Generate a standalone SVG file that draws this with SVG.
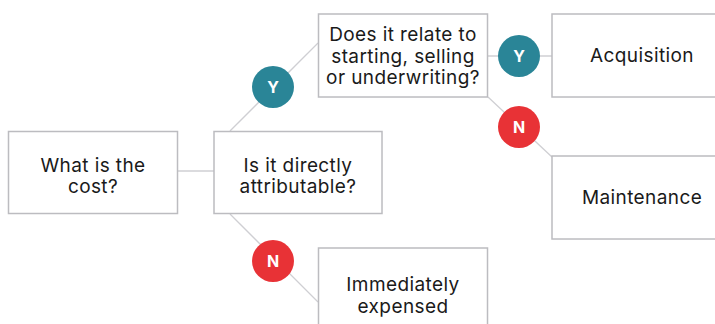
<svg xmlns="http://www.w3.org/2000/svg" width="715" height="324" viewBox="0 0 715 324">
<style>
.box{fill:#ffffff;stroke:#bcbcc0;stroke-width:1.5}
.lbl{font-family:Inter,"Open Sans","Liberation Sans",sans-serif;font-size:19px;letter-spacing:0.4px;fill:#1a1a1a;text-anchor:middle}
.badge{font-family:Inter,"Open Sans","Liberation Sans",sans-serif;font-size:16px;font-weight:700;fill:#ffffff;text-anchor:middle}
.yes{fill:#2a8597}
.no{fill:#e83236}
.conn{stroke:#cfcfd3;stroke-width:1.3;fill:none}
</style>
<rect width="715" height="324" fill="#ffffff"/>
<g id="connectors">
<line class="conn" x1="177" y1="171" x2="214" y2="171"/>
<line class="conn" x1="230" y1="131" x2="318" y2="43"/>
<line class="conn" x1="230" y1="214" x2="318" y2="302"/>
<line class="conn" x1="488" y1="56" x2="552" y2="56"/>
<line class="conn" x1="488" y1="97" x2="552" y2="157"/>
</g>
<g id="node-cost">
<rect class="box" x="8.5" y="131.5" width="169" height="82"/>
<text class="lbl" x="93" y="171.5">What is the</text>
<text class="lbl" x="93" y="193">cost?</text>
</g>
<g id="node-attributable">
<rect class="box" x="214" y="131.5" width="168" height="82"/>
<text class="lbl" x="298" y="171.5">Is it directly</text>
<text class="lbl" x="298" y="193">attributable?</text>
</g>
<g id="node-relate">
<rect class="box" x="318.5" y="14" width="169" height="83"/>
<text class="lbl" x="403" y="41">Does it relate to</text>
<text class="lbl" x="403" y="62.5">starting, selling</text>
<text class="lbl" x="403" y="84">or underwriting?</text>
</g>
<g id="node-acquisition">
<rect class="box" x="552" y="14" width="180" height="83"/>
<text class="lbl" x="642" y="62">Acquisition</text>
</g>
<g id="node-maintenance">
<rect class="box" x="552" y="156" width="180" height="83"/>
<text class="lbl" x="642" y="204">Maintenance</text>
</g>
<g id="node-expensed">
<rect class="box" x="318.5" y="248" width="169" height="83"/>
<text class="lbl" x="403" y="291">Immediately</text>
<text class="lbl" x="403" y="312.5">expensed</text>
</g>
<g id="badge-y1">
<circle class="yes" cx="273" cy="87" r="21"/>
<text class="badge" x="273" y="93">Y</text>
</g>
<g id="badge-n1">
<circle class="no" cx="273" cy="261" r="21"/>
<text class="badge" x="273" y="267">N</text>
</g>
<g id="badge-y2">
<circle class="yes" cx="519" cy="56" r="21"/>
<text class="badge" x="519" y="62">Y</text>
</g>
<g id="badge-n2">
<circle class="no" cx="519" cy="127" r="21"/>
<text class="badge" x="519" y="133">N</text>
</g>
</svg>
